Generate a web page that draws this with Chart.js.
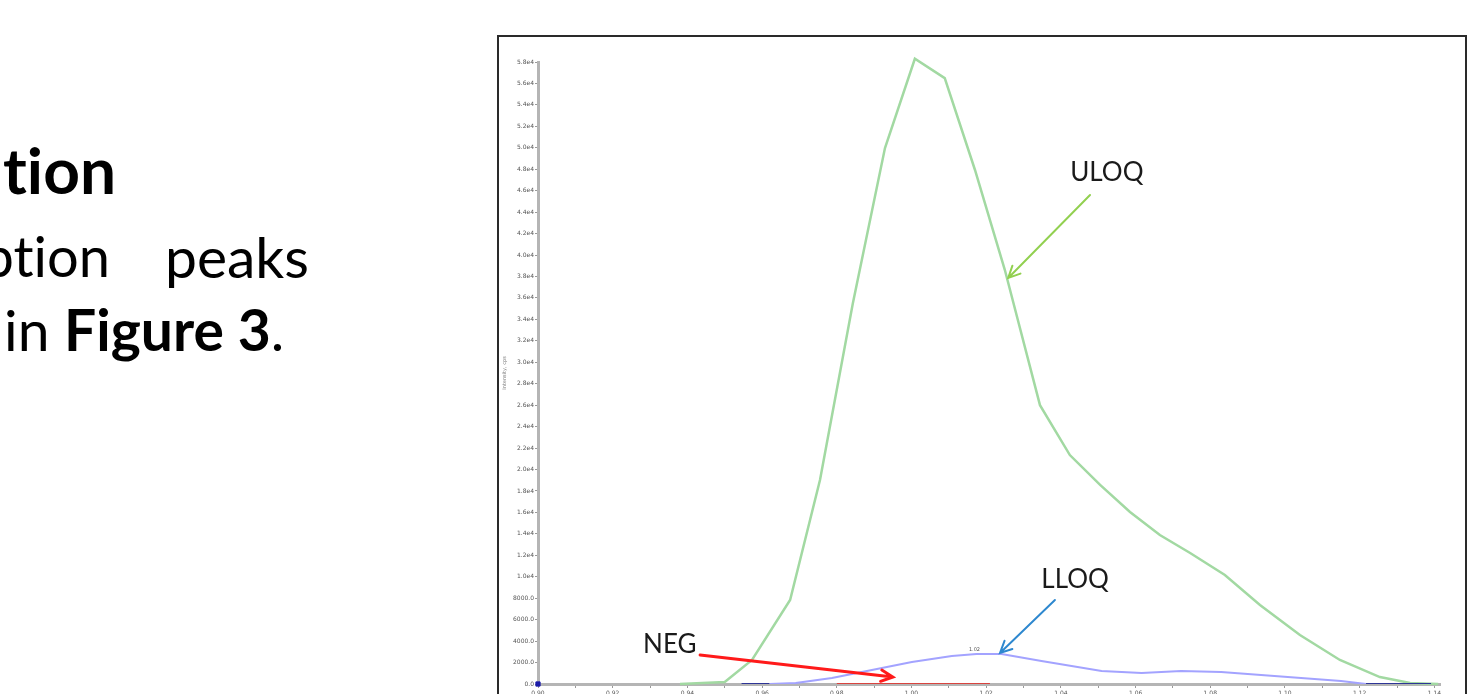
<!DOCTYPE html>
<html lang="en">
<head>
    <meta charset="UTF-8">
    <title>Figure 3 - XIC overlay</title>
    <script src="https://cdn.jsdelivr.net/npm/chart.js"></script>
    <style>
        html, body {
            margin: 0;
            padding: 0;
            width: 1468px;
            height: 694px;
            overflow: hidden;
            background: #ffffff;
            font-family: Lato, 'Open Sans', sans-serif;
        }

        /* slide text on the left, partly cut off by the page edge */
        .txt {
            position: absolute;
            color: #000;
            white-space: nowrap;
            line-height: 1;
            font-variant-ligatures: none;
        }
        .bold { font-weight: 700; }

        /* framed chart */
        .frame {
            position: absolute;
            left: 497px;
            top: 35px;
            width: 970px;
            height: 680px;
            border: 2px solid #2a2a2a;
            box-sizing: border-box;
        }
        .chart-box {
            position: absolute;
            left: 499px;
            top: 37px;
            width: 965px;
            height: 667px;
        }
    </style>
</head>
<body>
    <div class="txt bold" style="left:-300px; width:416px; text-align:right; top:138px; font-size:64px;">tion</div>
    <div class="txt" style="left:-300px; width:410px; text-align:right; top:228px; font-size:56px;">ption</div>
    <div class="txt" style="left:165px; top:228px; font-size:57px;">peaks</div>
    <div class="txt" style="left:4px; top:301px; font-size:57px;">in <span class="bold">Figure 3</span>.</div>

    <div class="frame"></div>
    <div class="chart-box">
        <canvas id="xicChart"></canvas>
    </div>

    <script>
        // retention time axis labels (min)
        const timeLabels = ['0.90', '0.92', '0.94', '0.96', '0.98', '1.00', '1.02',
                            '1.04', '1.06', '1.08', '1.10', '1.12', '1.14'];

        // ULOQ trace
        const uloqTime = [0.938, 0.950, 0.9573, 0.9675, 0.9755, 0.9843, 0.9929, 1.0009,
                          1.0089, 1.0170, 1.0250, 1.0344, 1.0424, 1.0505, 1.0585, 1.0665,
                          1.0746, 1.0839, 1.0933, 1.1040, 1.1147, 1.1254, 1.1335, 1.1410];
        const uloqIntensity = [0, 190, 2240, 7830, 19020, 35500, 49980, 58300,
                               56500, 47930, 38600, 26000, 21350, 18560, 16040, 13890,
                               12220, 10160, 7370, 4570, 2240, 650, 90, 0];

        // LLOQ trace
        const lloqTime = [0.9545, 0.9620, 0.9690, 0.9787, 0.9894, 1.0001, 1.0108, 1.0174,
                          1.0241, 1.0348, 1.0509, 1.0616, 1.0722, 1.0829, 1.0936, 1.1043,
                          1.1150, 1.1217, 1.1310, 1.1391];
        const lloqIntensity = [0, 0, 90, 560, 1300, 2050, 2610, 2800,
                               2800, 2150, 1210, 1030, 1210, 1120, 840, 560,
                               280, 0, 0, 0];

        // NEG (blank) trace
        const negTime = [0.9800, 0.9950, 1.0100, 1.0210];
        const negIntensity = [0, 0, 0, 0];

        // first sample of the run
        const startTime = [0.90];
        const startIntensity = [0];

        const yMax = 58000;
        const yStep = 2000;

        function pts(xs, ys) {
            return xs.map((x, i) => ({ x: x, y: ys[i] }));
        }

        // arrows and labels placed in data units
        const callouts = [
            { text: 'ULOQ', at: [1.0523, 47700], from: [1.0478, 45600], to: [1.0259, 37860], color: '#92d050', width: 2 },
            { text: 'LLOQ', at: [1.0438, 9700],  from: [1.0384, 7830],  to: [1.0237, 2890],  color: '#2e88cf', width: 2 },
            { text: 'NEG',  at: [0.9353, 3640],  from: [0.9434, 2700],  to: [0.9950, 650],   color: '#ff1a1a', width: 3 }
        ];

        const calloutPlugin = {
            id: 'callouts',
            afterDatasetsDraw(chart) {
                const { ctx, scales: { x, y } } = chart;
                ctx.save();

                // retention time printed above the LLOQ apex
                let top = 0;
                lloqIntensity.forEach((v, i) => { if (v > lloqIntensity[top]) top = i; });
                ctx.font = '5px "DejaVu Sans"';
                ctx.fillStyle = '#555';
                ctx.textAlign = 'center';
                ctx.textBaseline = 'bottom';
                ctx.fillText(lloqTime[top].toFixed(2), x.getPixelForValue(lloqTime[top]) - 2,
                             y.getPixelForValue(lloqIntensity[top]) - 2);

                callouts.forEach(c => {
                    const x0 = x.getPixelForValue(c.from[0]), y0 = y.getPixelForValue(c.from[1]);
                    const x1 = x.getPixelForValue(c.to[0]),   y1 = y.getPixelForValue(c.to[1]);
                    const ang = Math.atan2(y1 - y0, x1 - x0);
                    const head = 13;

                    ctx.strokeStyle = c.color;
                    ctx.lineWidth = c.width;
                    ctx.lineCap = 'round';
                    ctx.beginPath();
                    ctx.moveTo(x0, y0);
                    ctx.lineTo(x1, y1);
                    ctx.moveTo(x1 - head * Math.cos(ang - 0.45), y1 - head * Math.sin(ang - 0.45));
                    ctx.lineTo(x1, y1);
                    ctx.lineTo(x1 - head * Math.cos(ang + 0.45), y1 - head * Math.sin(ang + 0.45));
                    ctx.stroke();

                    ctx.font = '26px Lato';
                    ctx.fillStyle = '#1a1a1a';
                    ctx.textAlign = 'center';
                    ctx.textBaseline = 'middle';
                    ctx.fillText(c.text, x.getPixelForValue(c.at[0]), y.getPixelForValue(c.at[1]));
                });
                ctx.restore();
            }
        };

        const ctx = document.getElementById('xicChart').getContext('2d');
        new Chart(ctx, {
            type: 'line',
            data: {
                datasets: [
                    {
                        label: 'NEG',
                        data: pts(negTime, negIntensity),
                        borderColor: '#d9443f',
                        borderWidth: 2,
                        pointRadius: 0
                    },
                    {
                        label: 'LLOQ',
                        data: pts(lloqTime, lloqIntensity),
                        borderColor: '#a3a3ff',
                        borderWidth: 2,
                        pointRadius: 0,
                        segment: {
                            // flat stretches on the baseline show up darker
                            borderColor: s => (s.p0.parsed.y === 0 && s.p1.parsed.y === 0) ? '#2e3596' : undefined
                        }
                    },
                    {
                        label: 'ULOQ',
                        data: pts(uloqTime, uloqIntensity),
                        borderColor: '#a2d9a2',
                        borderWidth: 2.5,
                        pointRadius: 0,
                        clip: false
                    },
                    {
                        label: 'start',
                        data: pts(startTime, startIntensity),
                        showLine: false,
                        pointStyle: 'rect',
                        pointRadius: 3,
                        backgroundColor: '#1b1ba8',
                        borderColor: '#1b1ba8',
                        clip: false
                    }
                ]
            },
            options: {
                responsive: true,
                maintainAspectRatio: false,
                animation: false,
                layout: { padding: { top: 25, right: 24, left: 0, bottom: 0 } },
                plugins: {
                    legend: { display: false },
                    tooltip: { enabled: false }
                },
                scales: {
                    x: {
                        type: 'linear',
                        min: 0.90,
                        max: 1.1415,
                        afterBuildTicks: axis => {
                            // labelled ticks plus one unlabelled tick halfway between
                            const ticks = [];
                            timeLabels.forEach((t, i) => {
                                const v = parseFloat(t);
                                ticks.push({ value: v });
                                if (i < timeLabels.length - 1) {
                                    ticks.push({ value: (v + parseFloat(timeLabels[i + 1])) / 2 });
                                }
                            });
                            axis.ticks = ticks;
                        },
                        afterFit: s => { s.height = 20; },
                        border: { display: true, color: '#b5b5b5', width: 3 },
                        grid: { drawOnChartArea: false, drawTicks: true, tickLength: 4, color: '#999' },
                        ticks: {
                            autoSkip: false,
                            maxRotation: 0,
                            padding: 2,
                            color: '#555',
                            font: { size: 6, family: 'DejaVu Sans' },
                            callback: v => {
                                const s = v.toFixed(2);
                                return timeLabels.includes(s) && Math.abs(v - parseFloat(s)) < 1e-6 ? s : '';
                            }
                        }
                    },
                    y: {
                        min: 0,
                        max: yMax,
                        afterFit: s => { s.width = 39; },
                        border: { display: true, color: '#b5b5b5', width: 3 },
                        grid: { drawOnChartArea: false, drawTicks: true, tickLength: 3, color: '#999' },
                        title: {
                            display: true,
                            text: 'Intensity, cps',
                            color: '#777',
                            padding: { top: 3, bottom: 0 },
                            font: { size: 5, family: 'DejaVu Sans' }
                        },
                        ticks: {
                            stepSize: yStep,
                            autoSkip: false,
                            padding: 1,
                            color: '#555',
                            font: { size: 6, family: 'DejaVu Sans' },
                            callback: v => v < 10000 ? v.toFixed(1) : (v / 10000).toFixed(1) + 'e4'
                        }
                    }
                }
            },
            plugins: [calloutPlugin]
        });
    </script>
</body>
</html>
